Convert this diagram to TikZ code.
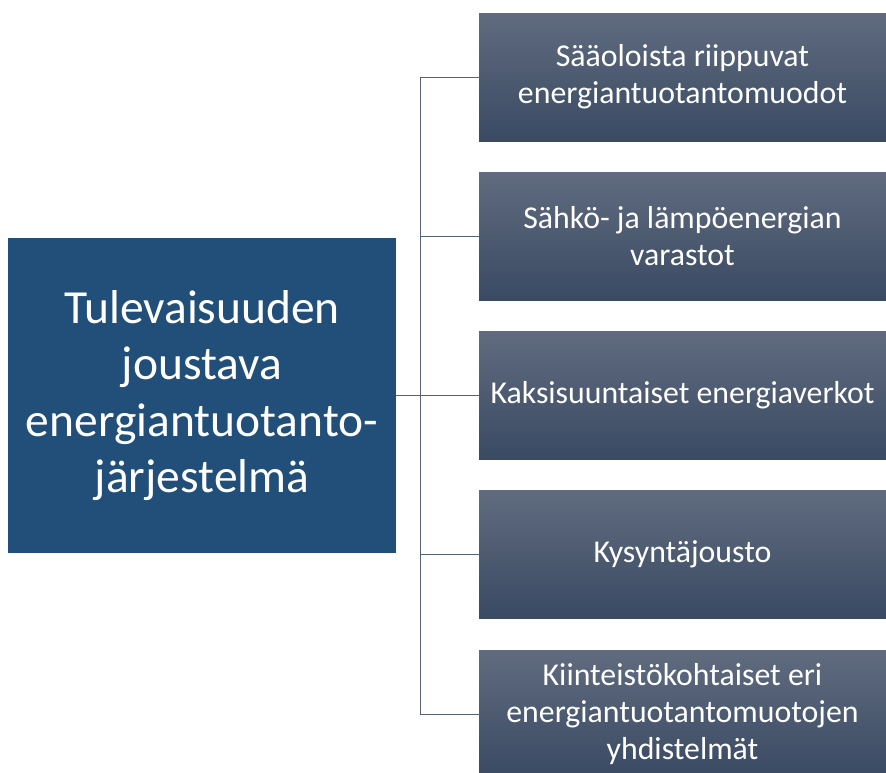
\documentclass[tikz,border=0pt]{standalone}
\usepackage{fontspec}
\setmainfont{Carlito}
\definecolor{mainblue}{RGB}{33,79,122}
\definecolor{boxtop}{RGB}{96,107,127}
\definecolor{boxbot}{RGB}{58,74,99}
\definecolor{linec}{RGB}{85,98,118}
\begin{document}
\begin{tikzpicture}[x=1pt,y=-1pt,
  mainbox/.style={rectangle, fill=mainblue, text=white, minimum width=388pt, minimum height=315pt, inner sep=0pt, align=center, font=\fontsize{47.5}{56.5}\selectfont},
  sidebox/.style={rectangle, top color=boxtop, bottom color=boxbot, text=white, minimum width=407pt, minimum height=128pt, inner sep=0pt, align=center, font=\fontsize{31.8}{37}\selectfont},
  conn/.style={draw=linec, line width=1pt}]
\useasboundingbox (0,0) rectangle (886,772);
\node[mainbox] (main) at (202,395.5) {Tulevaisuuden\\joustava\\energiantuotanto-\\järjestelmä};
\node[sidebox] (b1) at (682.5,77) {Sääoloista riippuvat\\energiantuotantomuodot};
\node[sidebox] (b2) at (682.5,236) {Sähkö- ja lämpöenergian\\varastot};
\node[sidebox] (b3) at (682.5,395.5) {Kaksisuuntaiset energiaverkot};
\node[sidebox] (b4) at (682.5,554.5) {Kysyntäjousto};
\node[sidebox] (b5) at (682.5,714) {Kiinteistökohtaiset eri\\energiantuotantomuotojen\\yhdistelmät};
\coordinate (trunk) at (420,395.5);
\draw[conn] (main.east) -- (trunk);
\draw[conn] (b1.west -| trunk) -- (b5.west -| trunk);
\foreach \b in {b1,b2,b3,b4,b5} \draw[conn] (\b.west) -- (\b.west -| trunk);
\end{tikzpicture}
\end{document}
